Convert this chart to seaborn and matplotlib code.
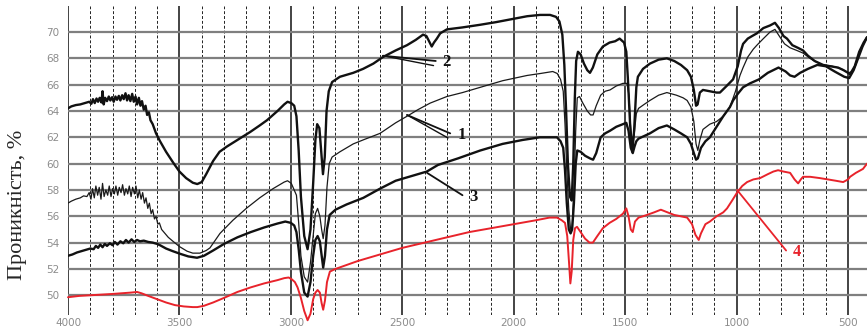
import numpy as np
import pandas as pd
import matplotlib
matplotlib.use("Agg")
import matplotlib.pyplot as plt
import seaborn as sns

# (wavenumber, transmittance %)
curve1 = [(4000, 57.0), (3985, 57.15), (3965, 57.3), (3945, 57.4), (3930, 57.55), (3915, 57.5),
          (3905, 57.8), (3897, 57.3), (3890, 58.1), (3882, 57.4), (3875, 58.3), (3867, 57.6),
          (3860, 58.2), (3852, 57.3), (3845, 58.5), (3838, 57.5), (3830, 58.0), (3822, 57.6),
          (3815, 58.3), (3807, 57.5), (3800, 58.1), (3792, 57.7), (3785, 58.3), (3777, 57.6),
          (3770, 58.2), (3762, 57.8), (3755, 58.4), (3747, 57.6), (3740, 58.1), (3732, 57.7),
          (3725, 58.3), (3717, 57.5), (3710, 58.2), (3702, 57.7), (3695, 58.3), (3687, 57.4),
          (3680, 58.0), (3672, 57.3), (3665, 57.8), (3657, 57.0), (3650, 57.4), (3642, 56.6),
          (3635, 57.0), (3627, 56.2), (3620, 56.5), (3612, 55.8), (3605, 56.0), (3597, 55.4),
          (3590, 55.5), (3580, 55.0), (3565, 54.7), (3550, 54.4), (3529, 54.1), (3500, 53.7),
          (3466, 53.35), (3440, 53.2), (3408, 53.2), (3380, 53.4), (3363, 53.6), (3318, 54.7),
          (3260, 55.7), (3200, 56.6), (3140, 57.4), (3080, 58.1), (3030, 58.6), (3015, 58.7),
          (2998, 58.5), (2985, 58.0), (2975, 57.6), (2965, 55.5), (2955, 53.0), (2940, 51.4),
          (2925, 51.0), (2912, 52.5), (2900, 54.5), (2890, 56.2), (2880, 56.6), (2870, 56.0),
          (2862, 55.0), (2855, 54.3), (2847, 55.3), (2838, 58.2), (2828, 60.0), (2815, 60.5),
          (2780, 60.9), (2720, 61.5), (2676, 61.8), (2600, 62.3), (2530, 63.1), (2479, 63.6),
          (2430, 64.1), (2375, 64.6), (2300, 65.1), (2230, 65.4), (2150, 65.8), (2050, 66.3),
          (1940, 66.7), (1880, 66.85), (1825, 67.0), (1805, 66.85), (1790, 66.4), (1778, 65.5),
          (1770, 63.0), (1762, 59.5), (1753, 56.5), (1745, 55.0), (1738, 55.2), (1730, 58.0),
          (1722, 62.5), (1715, 65.0), (1705, 65.1), (1690, 64.6), (1670, 64.0), (1655, 63.7),
          (1644, 63.7), (1630, 64.4), (1610, 65.2), (1590, 65.5), (1568, 65.6), (1540, 65.9),
          (1510, 66.1), (1492, 66.1), (1483, 65.2), (1475, 62.5), (1467, 61.2), (1458, 62.5),
          (1450, 63.8), (1440, 64.2), (1415, 64.5), (1389, 64.8), (1350, 65.2), (1313, 65.4),
          (1270, 65.2), (1240, 65.0), (1222, 64.8), (1205, 64.3), (1192, 63.2), (1182, 61.5),
          (1174, 61.0), (1165, 61.8), (1151, 62.6), (1120, 63.0), (1090, 63.2), (1060, 63.6),
          (1030, 64.3), (1005, 65.5), (985, 66.7), (971, 67.3), (950, 68.1), (925, 68.7),
          (909, 69.0), (880, 69.5), (850, 70.0), (828, 70.2), (805, 69.6), (785, 69.1),
          (760, 68.8), (730, 68.6), (702, 68.4), (670, 68.0), (640, 67.7), (612, 67.5),
          (570, 67.4), (530, 67.2), (500, 66.9), (480, 67.0), (460, 67.8), (440, 68.8), (415, 69.6)]

curve2 = [(4000, 64.2), (3985, 64.35), (3965, 64.45), (3945, 64.5), (3925, 64.6), (3905, 64.7),
          (3895, 64.55), (3888, 64.9), (3880, 64.6), (3872, 64.95), (3865, 64.7), (3858, 65.0),
          (3850, 64.65), (3845, 65.5), (3840, 64.5), (3833, 65.0), (3825, 64.75), (3817, 65.1),
          (3810, 64.8), (3802, 65.05), (3795, 64.7), (3787, 65.1), (3780, 64.85), (3772, 65.15),
          (3765, 64.8), (3757, 65.2), (3750, 64.9), (3742, 65.35), (3735, 64.8), (3728, 65.2),
          (3720, 64.75), (3712, 65.3), (3705, 64.7), (3697, 65.1), (3690, 64.5), (3682, 65.0),
          (3675, 64.4), (3668, 64.75), (3660, 64.1), (3652, 64.4), (3645, 63.7), (3637, 63.9),
          (3630, 63.3), (3620, 63.0), (3605, 62.3), (3587, 61.7), (3560, 60.9), (3529, 60.1),
          (3500, 59.4), (3470, 58.9), (3440, 58.55), (3420, 58.45), (3400, 58.6), (3380, 59.2),
          (3349, 60.2), (3320, 60.9), (3287, 61.3), (3230, 61.9), (3183, 62.4), (3140, 62.9),
          (3107, 63.3), (3060, 64.0), (3030, 64.5), (3015, 64.7), (2998, 64.6), (2985, 64.4),
          (2975, 63.6), (2965, 61.0), (2955, 57.5), (2940, 54.5), (2925, 53.5), (2912, 55.0),
          (2900, 58.5), (2890, 61.8), (2882, 63.0), (2872, 62.7), (2864, 61.0), (2856, 59.2),
          (2848, 60.5), (2840, 64.0), (2830, 65.5), (2815, 66.2), (2780, 66.6), (2720, 66.9),
          (2676, 67.2), (2630, 67.6), (2587, 68.1), (2530, 68.6), (2479, 69.0), (2440, 69.4),
          (2407, 69.8), (2392, 69.7), (2380, 69.3), (2368, 68.9), (2358, 69.2), (2345, 69.5),
          (2330, 69.9), (2300, 70.2), (2230, 70.35), (2151, 70.55), (2080, 70.75), (2003, 71.0),
          (1940, 71.2), (1882, 71.3), (1837, 71.3), (1810, 71.15), (1795, 70.8), (1782, 69.8),
          (1773, 67.5), (1765, 64.0), (1757, 60.0), (1748, 57.5), (1740, 57.2), (1733, 60.0),
          (1726, 65.0), (1720, 67.8), (1712, 68.5), (1700, 68.3), (1685, 67.6), (1670, 67.1),
          (1658, 66.9), (1645, 67.3), (1625, 68.3), (1600, 68.9), (1570, 69.2), (1545, 69.3),
          (1525, 69.5), (1505, 69.2), (1495, 68.5), (1488, 66.5), (1478, 63.0), (1468, 60.9),
          (1460, 62.5), (1450, 65.8), (1443, 66.6), (1420, 67.2), (1389, 67.6), (1350, 67.9),
          (1313, 68.0), (1280, 67.8), (1250, 67.5), (1222, 67.1), (1205, 66.6), (1192, 65.6),
          (1182, 64.4), (1175, 64.5), (1165, 65.4), (1151, 65.6), (1120, 65.5), (1090, 65.4),
          (1075, 65.4), (1045, 65.9), (1016, 66.4), (995, 67.4), (980, 68.6), (971, 69.1),
          (950, 69.5), (930, 69.7), (909, 69.9), (880, 70.3), (850, 70.5), (828, 70.7),
          (810, 70.3), (790, 69.7), (774, 69.5), (750, 69.0), (725, 68.8), (702, 68.6),
          (680, 68.2), (650, 67.8), (612, 67.5), (580, 67.4), (545, 67.3), (520, 67.1),
          (500, 66.9), (491, 66.8), (470, 67.4), (450, 68.5), (430, 69.2), (415, 69.6)]

curve3 = [(4000, 53.0), (3980, 53.1), (3960, 53.25), (3940, 53.35), (3920, 53.45), (3900, 53.55),
          (3885, 53.5), (3875, 53.75), (3865, 53.6), (3855, 53.85), (3845, 53.65), (3835, 53.9),
          (3825, 53.75), (3812, 53.95), (3800, 53.8), (3790, 54.05), (3778, 53.85), (3765, 54.1),
          (3752, 53.95), (3740, 54.2), (3728, 54.0), (3715, 54.25), (3703, 54.05), (3690, 54.2),
          (3677, 54.1), (3660, 54.15), (3640, 54.05), (3620, 54.0), (3600, 53.9), (3587, 53.8),
          (3560, 53.55), (3530, 53.35), (3497, 53.15), (3460, 52.95), (3421, 52.85), (3390, 53.0),
          (3349, 53.4), (3300, 53.9), (3240, 54.4), (3180, 54.8), (3120, 55.15), (3060, 55.45),
          (3025, 55.6), (3000, 55.5), (2985, 55.3), (2975, 54.8), (2965, 53.5), (2955, 51.8),
          (2940, 50.2), (2925, 49.9), (2912, 51.0), (2900, 53.0), (2890, 54.2), (2880, 54.5),
          (2870, 54.1), (2862, 53.0), (2855, 52.1), (2847, 53.0), (2838, 55.0), (2826, 56.1),
          (2800, 56.5), (2750, 56.9), (2675, 57.4), (2600, 58.1), (2530, 58.7), (2470, 59.0),
          (2430, 59.2), (2390, 59.4), (2340, 59.9), (2250, 60.4), (2150, 61.0), (2050, 61.5),
          (1960, 61.8), (1883, 62.0), (1840, 62.0), (1806, 62.0), (1790, 61.7), (1778, 61.2),
          (1770, 59.5), (1762, 57.0), (1753, 55.0), (1745, 54.7), (1738, 55.0), (1730, 57.0),
          (1722, 60.0), (1715, 61.0), (1700, 60.9), (1680, 60.6), (1658, 60.4), (1644, 60.3),
          (1630, 60.8), (1610, 62.0), (1590, 62.3), (1568, 62.5), (1540, 62.8), (1510, 63.0),
          (1495, 63.1), (1485, 62.5), (1475, 61.2), (1466, 60.8), (1458, 61.3), (1450, 61.7),
          (1440, 61.9), (1415, 62.1), (1389, 62.3), (1350, 62.7), (1313, 62.9), (1280, 62.6),
          (1250, 62.3), (1222, 62.0), (1205, 61.5), (1192, 60.8), (1182, 60.3), (1174, 60.4),
          (1160, 61.2), (1140, 61.7), (1120, 62.0), (1090, 62.8), (1060, 63.6), (1030, 64.3),
          (1016, 64.8), (995, 65.3), (971, 65.8), (940, 66.1), (900, 66.4), (860, 66.9),
          (812, 67.3), (780, 67.0), (760, 66.7), (740, 66.6), (715, 66.9), (680, 67.2),
          (638, 67.5), (600, 67.4), (560, 67.0), (517, 66.6), (495, 66.5), (475, 67.1),
          (455, 68.0), (435, 68.9), (415, 69.6)]

curve4 = [(4000, 49.85), (3950, 49.95), (3900, 50.0), (3850, 50.05), (3800, 50.1), (3760, 50.15),
          (3720, 50.2), (3690, 50.25), (3670, 50.15), (3640, 49.95), (3600, 49.7), (3560, 49.45),
          (3520, 49.25), (3480, 49.15), (3440, 49.1), (3420, 49.1), (3390, 49.2), (3349, 49.45),
          (3300, 49.8), (3240, 50.25), (3180, 50.6), (3120, 50.9), (3060, 51.15), (3030, 51.3),
          (3010, 51.35), (2995, 51.2), (2982, 51.0), (2970, 50.6), (2955, 49.8), (2940, 48.8),
          (2925, 48.1), (2912, 48.6), (2900, 49.7), (2890, 50.2), (2880, 50.4), (2870, 50.2),
          (2862, 49.4), (2855, 48.9), (2847, 49.6), (2838, 51.0), (2825, 51.8), (2800, 52.0),
          (2700, 52.6), (2600, 53.1), (2500, 53.6), (2400, 54.0), (2300, 54.4), (2200, 54.8),
          (2100, 55.1), (2000, 55.4), (1900, 55.7), (1840, 55.9), (1806, 55.9), (1785, 55.7),
          (1770, 55.5), (1760, 54.5), (1752, 52.5), (1746, 50.9), (1740, 51.8), (1733, 54.2),
          (1725, 55.1), (1716, 55.2), (1700, 54.8), (1680, 54.3), (1660, 54.0), (1645, 54.0),
          (1625, 54.5), (1600, 55.1), (1570, 55.5), (1540, 55.8), (1510, 56.2), (1495, 56.6),
          (1485, 56.0), (1475, 55.0), (1466, 54.8), (1456, 55.6), (1440, 55.9), (1420, 56.0),
          (1403, 56.1), (1370, 56.3), (1340, 56.5), (1310, 56.3), (1280, 56.1), (1250, 56.0),
          (1222, 55.9), (1200, 55.4), (1185, 54.6), (1170, 54.2), (1160, 54.7), (1140, 55.4),
          (1120, 55.6), (1090, 56.0), (1060, 56.3), (1043, 56.6), (1020, 57.2), (998, 57.8),
          (975, 58.3), (953, 58.6), (925, 58.8), (895, 58.9), (860, 59.2), (835, 59.4),
          (814, 59.5), (790, 59.4), (760, 59.3), (740, 58.8), (724, 58.5), (712, 58.8),
          (702, 59.0), (670, 59.0), (626, 58.9), (590, 58.8), (555, 58.7), (522, 58.6),
          (500, 58.8), (491, 59.0), (465, 59.3), (433, 59.6), (415, 60.0)]

x_ticks = [4000, 3500, 3000, 2500, 2000, 1500, 1000, 500]
y_ticks = [50, 52, 54, 56, 58, 60, 62, 64, 66, 68, 70]

# label: (text, curve point, label point)
labels = [("2", (2587, 68.2), (2300, 67.7)),
          ("1", (2479, 63.7), (2235, 62.2)),
          ("3", (2389, 59.3), (2180, 57.5)),
          ("4", (998, 58.0), (728, 53.3))]

sns.set_style("white")
fig = plt.figure(figsize=(8.67, 3.31), dpi=100)
ax = fig.add_axes([68 / 867, 16 / 331, 1 - 68 / 867, (315 - 5.7) / 331])

styles = [(curve1, "#1a1a1a", 0.9), (curve2, "#111111", 1.7),
          (curve3, "#111111", 1.7), (curve4, "#e8232b", 1.4)]
for data, col, lw in styles:
    df = pd.DataFrame(data, columns=["wn", "T"])
    sns.lineplot(data=df, x="wn", y="T", ax=ax, color=col, lw=lw,
                 sort=False, estimator=None, zorder=3)
ax.lines[-1].set_clip_on(False)

ax.set_xlim(4000, 415)
ax.set_ylim(48.5, 72)
ax.set_xticks(x_ticks)
ax.set_xticks(np.arange(4000, 400, -100), minor=True)
ax.set_yticks(y_ticks)
ax.xaxis.grid(True, which="major", color="#111111", lw=1.1)
ax.xaxis.grid(True, which="minor", color="#222222", lw=0.7, ls=(0, (3, 2)))
ax.yaxis.grid(True, color="#7f7f7f", lw=1.6)
ax.set_axisbelow(True)
ax.tick_params(axis="both", which="both", length=0, labelsize=7.5, labelcolor="#8c8c8c")
ax.tick_params(axis="y", pad=6)
ax.tick_params(axis="x", pad=2)
for s in ax.spines.values():
    s.set_visible(False)
ax.set_xlabel("")
ax.set_ylabel("")

for txt, (px, py), (lx, ly) in labels:
    col = "#e8232b" if txt == "4" else "#111111"
    ax.plot([px, lx + 50], [py, ly + 0.1], color=col, lw=1.3, zorder=4)
    if txt in ("1", "2"):
        ax.plot([px, lx + 60], [py, ly - 0.25], color=col, lw=1.0, zorder=4)
    ax.text(lx, ly, txt, color=col, fontsize=12, fontweight="bold",
            family="Liberation Serif", ha="center", va="center", zorder=5)

fig.text(18 / 867, 1 - 205 / 331, "Проникність, %", rotation=90,
         family="Liberation Serif", fontsize=16, ha="center", va="center")

fig.savefig("out.png", dpi=100)
